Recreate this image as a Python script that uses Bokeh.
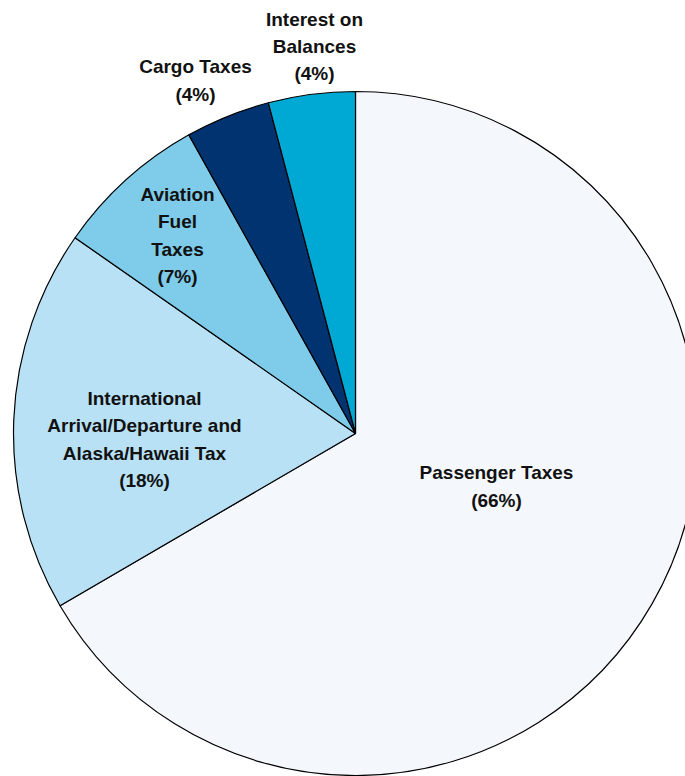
import numpy as np
from bokeh.plotting import figure
from bokeh.models import Range1d, ColumnDataSource
from bokeh.core.properties import value
from bokeh.embed import file_html
from bokeh.resources import INLINE

# ---- data ----
categories = ["Passenger Taxes",
              "International Arrival/Departure and Alaska/Hawaii Tax",
              "Aviation Fuel Taxes",
              "Cargo Taxes",
              "Interest on Balances"]
shares = [66.6, 18.1, 7.2, 4.0, 4.1]
label_texts = ["Passenger Taxes\n(66%)",
               "International\nArrival/Departure and\nAlaska/Hawaii Tax\n(18%)",
               "Aviation\nFuel\nTaxes\n(7%)",
               "Cargo Taxes\n(4%)",
               "Interest on\nBalances\n(4%)"]
colors = ["#F4F8FD", "#B9E1F6", "#7ECCEA", "#00336F", "#00A9D4"]

# ---- layout ----
W, H = 685, 776
cx, cy, R = 355, 343, 342
label_x = [496, 144, 177, 195, 314]
label_y = [290, 337, 541, 696, 730]

frac = np.array(shares) / sum(shares)
cum = np.concatenate([[0], np.cumsum(frac)])
start_clock = np.pi / 2 - cum[:-1] * 2 * np.pi
end_clock = np.pi / 2 - cum[1:] * 2 * np.pi

src = ColumnDataSource(dict(
    cat=categories,
    start=list(end_clock),
    end=list(start_clock),
    color=colors,
))

p = figure(width=W, height=H, output_backend="svg", toolbar_location=None,
           x_range=Range1d(0, W), y_range=Range1d(0, H),
           min_border=0, match_aspect=False)
p.axis.visible = False
p.grid.visible = False
p.outline_line_color = None
p.background_fill_color = "white"
p.border_fill_color = "white"

p.wedge(x=cx, y=cy, radius=R, start_angle="start", end_angle="end",
        direction="anticlock", fill_color="color", line_color="black",
        line_width=1.2, source=src)

lsrc = ColumnDataSource(dict(x=label_x, y=label_y, t=label_texts))
p.text(x="x", y="y", text="t", source=lsrc, text_align="center",
       text_baseline="middle", text_font=value("Liberation Sans"),
       text_font_style="bold", text_font_size="19px", text_color="#111111",
       text_line_height=1.3)

open("out.html", "w").write(file_html(p, INLINE))
